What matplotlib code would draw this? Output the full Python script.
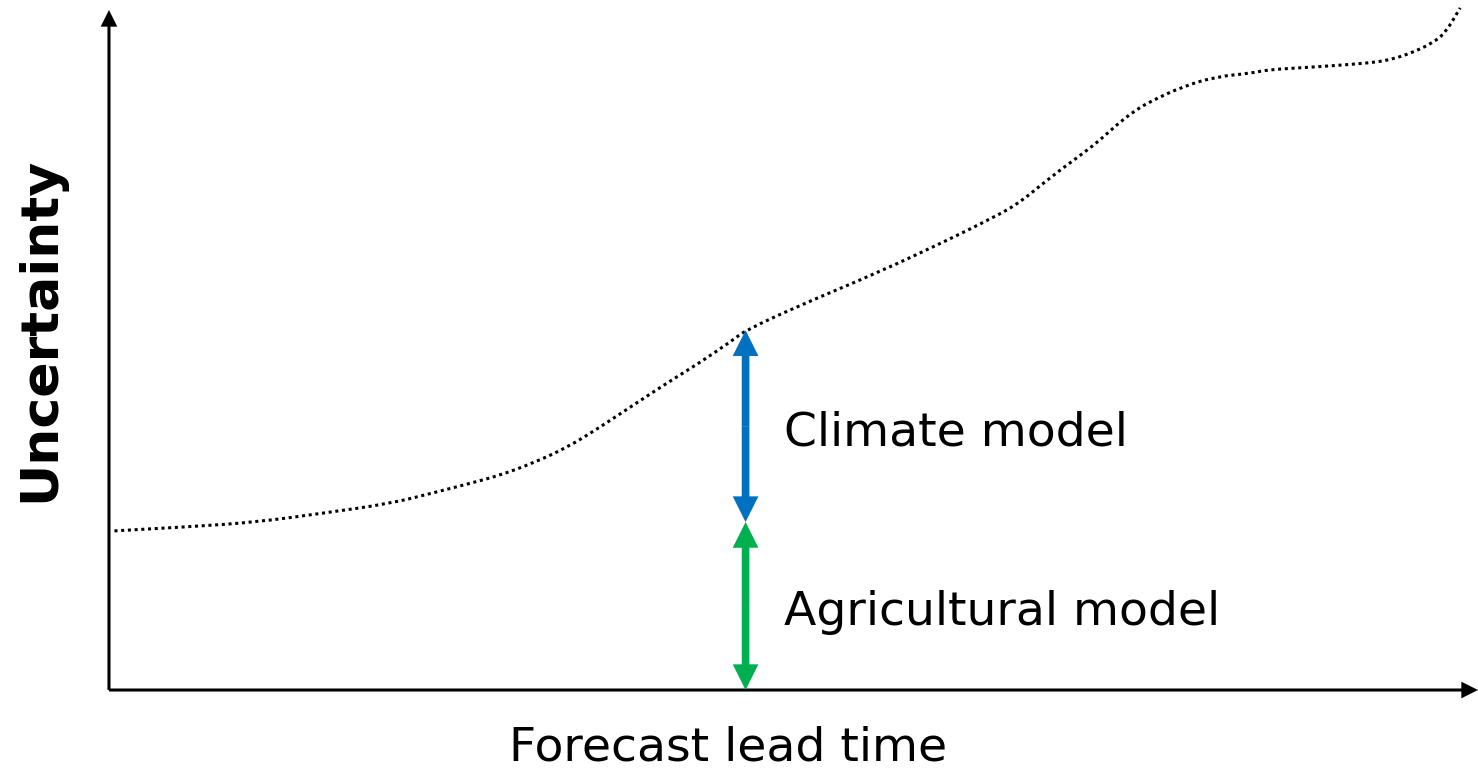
import numpy as np
import matplotlib
matplotlib.use('Agg')
import matplotlib.pyplot as plt
from matplotlib.path import Path
from matplotlib.patches import PathPatch, FancyArrowPatch

# dotted uncertainty curve (lead time 0-100, uncertainty 0-100)
lead = [0.4, 5.9, 10.8, 15.6, 20.5, 23.7, 26.2, 28.6, 31.0, 33.5, 35.9, 38.3,
        40.8, 43.2, 45.6, 46.5, 50.5, 56.3, 61.4, 63.8, 66.3, 68.7, 71.2, 72.4,
        73.6, 74.8, 76.0, 78.5, 80.9, 83.4, 84.6, 87.0, 89.4, 91.9, 93.1, 94.3,
        95.5, 96.7, 97.6, 98.7]
uncert = [23.4, 24.0, 24.7, 26.0, 27.4, 29.0, 30.3, 31.6, 33.4, 35.7, 38.7, 41.9,
          45.2, 48.2, 51.5, 52.9, 56.6, 61.5, 66.3, 68.7, 71.3, 75.3, 79.0, 80.9,
          83.1, 85.0, 86.5, 88.8, 90.2, 90.7, 91.2, 91.5, 91.8, 92.2, 92.5, 93.1,
          94.0, 95.2, 96.6, 100.3]

split_x = 46.5
climate_top = 52.9
climate_bottom = 24.7
agri_bottom = 0.0

fig = plt.figure(figsize=(14.78, 7.71), dpi=100, facecolor='white')
ax = fig.add_axes([0, 0, 1, 1])
ax.set_xlim(-7.96, 100)
ax.set_ylim(-11.91, 101.47)
ax.axis('off')


def arrow(p0, p1, color, hl, hw, tw):
    ax.add_patch(FancyArrowPatch(
        p0, p1, arrowstyle=f'simple,head_length={hl},head_width={hw},tail_width={tw}',
        mutation_scale=1, fc=color, lw=0, shrinkA=0, shrinkB=0, clip_on=False))


# axes with arrows
arrow((0, 0), (100, 0), 'black', 12, 12, 2.2)
arrow((0, 0), (0, 100), 'black', 12, 12, 2.2)

# smooth dotted curve: quadratic beziers through the points
pts = np.column_stack([lead, uncert])
verts = [pts[0]]
codes = [Path.MOVETO]
for i in range(1, len(pts) - 1):
    verts += [pts[i], (pts[i] + pts[i + 1]) / 2]
    codes += [Path.CURVE3, Path.CURVE3]
verts.append(pts[-1])
codes.append(Path.LINETO)
ax.add_patch(PathPatch(Path(verts, codes), fill=False, ec='black', lw=2.2,
                       linestyle=(0, (1, 1.2)), capstyle='butt'))


def double_arrow(x, y0, y1, color):
    mid = (y0 + y1) / 2
    arrow((x, mid), (x, y1), color, 18.5, 18.5, 5.5)
    arrow((x, mid), (x, y0), color, 18.5, 18.5, 5.5)


double_arrow(split_x, climate_bottom, climate_top, '#0070C0')
double_arrow(split_x, agri_bottom, climate_bottom, '#00B050')

ax.text(49.3, 37.8, 'Climate model', fontsize=34, va='center', ha='left',
        family='DejaVu Sans')
ax.text(49.3, 11.4, 'Agricultural model', fontsize=34, va='center', ha='left',
        family='DejaVu Sans')
ax.text(45.2, -8.5, 'Forecast lead time', fontsize=34, va='center', ha='center',
        family='DejaVu Sans')
ax.text(-5.0, 53.0, 'Uncertainty', fontsize=37.5, fontweight='bold', rotation=90,
        va='center', ha='center', family='DejaVu Sans')

fig.savefig('out.png', dpi=100, facecolor='white')
